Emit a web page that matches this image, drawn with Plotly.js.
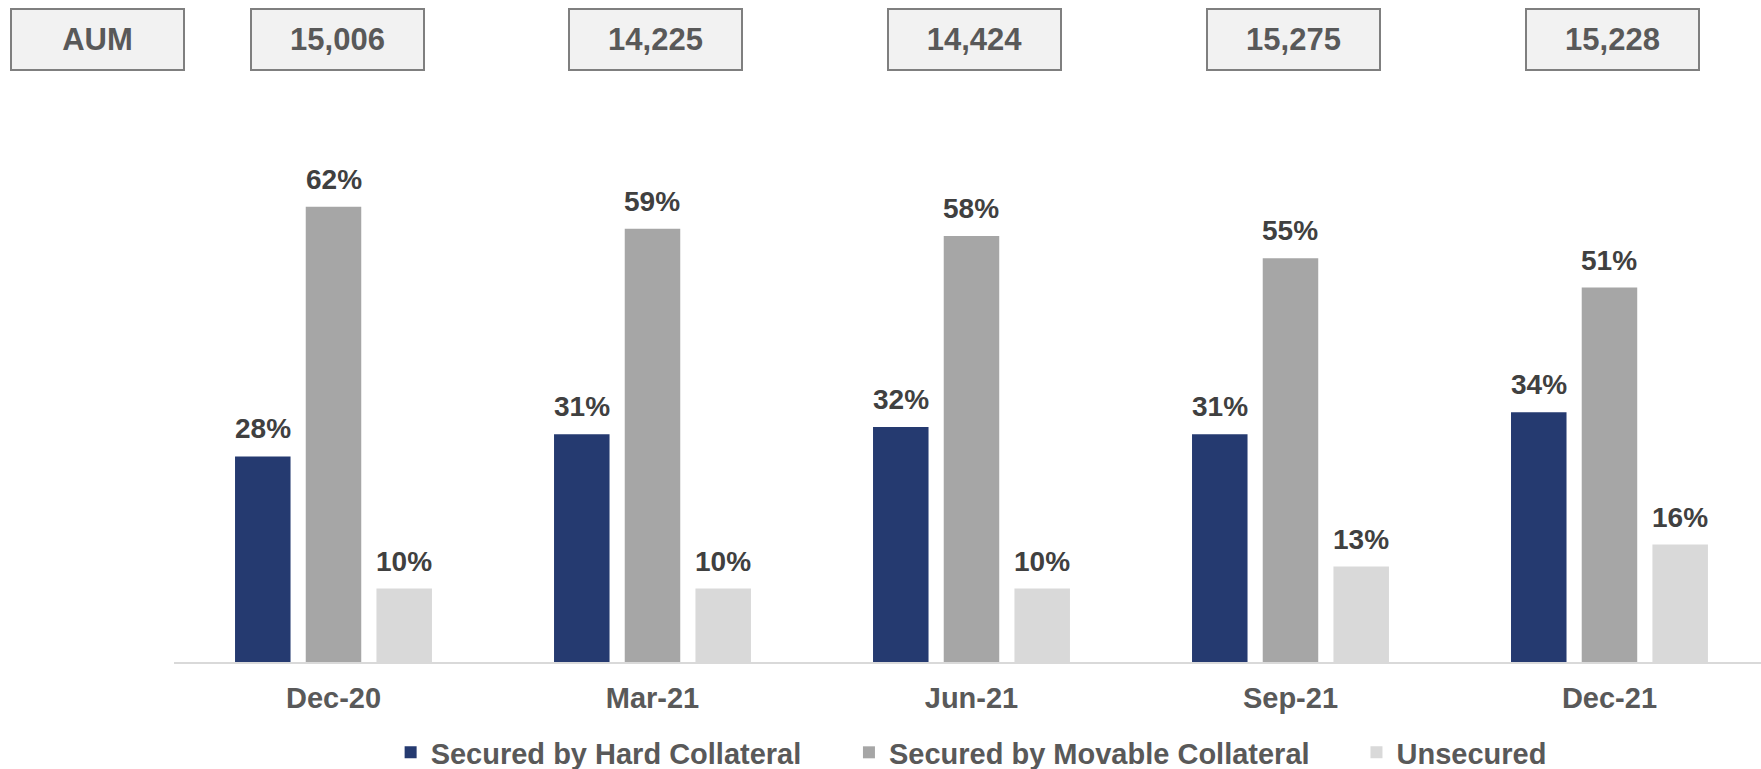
<!DOCTYPE html>
<html>
<head>
<meta charset="utf-8">
<script src="https://cdn.plot.ly/plotly-3.0.1.min.js"></script>
<style>html,body{margin:0;padding:0;background:#fff;}#chart{width:1761px;height:769px;}</style>
</head>
<body>
<div id="chart"></div>
<script>
// ---- data ----
const categories = ["Dec-20", "Mar-21", "Jun-21", "Sep-21", "Dec-21"];
const aumLabel = "AUM";
const aumValues = ["15,006", "14,225", "14,424", "15,275", "15,228"];
const seriesNames = ["Secured by Hard Collateral", "Secured by Movable Collateral", "Unsecured"];
const hardCollateral = [28, 31, 32, 31, 34];
const movableCollateral = [62, 59, 58, 55, 51];
const unsecured = [10, 10, 10, 13, 16];

// ---- styles ----
const colors = ["#253A70", "#A6A6A6", "#D9D9D9"];
const FONT = "Liberation Sans, Arial, Helvetica, sans-serif";
const BARGAP = 0.335;
const seriesValues = [hardCollateral, movableCollateral, unsecured];
const legendIds = ["legend", "legend2", "legend3"];

const xIdx = categories.map((c, i) => i);

const traces = seriesValues.map((vals, j) => ({
  type: "bar",
  name: seriesNames[j],
  x: xIdx,
  y: vals,
  marker: {color: colors[j]},
  legend: legendIds[j],
  hoverinfo: "skip"
}));

const annotations = [];
// data labels
const slot = (1 - BARGAP) / 3;
seriesValues.forEach((vals, j) => {
  vals.forEach((v, i) => {
    annotations.push({
      x: i + (j - 1) * slot, y: v, xref: "x", yref: "y",
      text: v + "%", showarrow: false,
      yanchor: "bottom", xanchor: "center", yshift: 10,
      font: {family: FONT, size: 28, color: "#404040", weight: 700}
    });
  });
});
// AUM boxes
const boxStyle = {
  showarrow: false, yref: "paper", y: 1.2111, yanchor: "middle", xanchor: "center",
  width: 170, height: 58, bgcolor: "#F2F2F2", bordercolor: "#7F7F7F", borderwidth: 2, borderpad: 0.5,
  font: {family: FONT, size: 31, color: "#595959", weight: 700}
};
annotations.push(Object.assign({}, boxStyle, {xref: "paper", x: -0.04827, text: aumLabel}));
aumValues.forEach((t, i) => {
  annotations.push(Object.assign({}, boxStyle, {xref: "x", x: i, xshift: 3.5, text: t}));
});

const legendBase = {
  orientation: "h", yref: "paper", y: -0.176, yanchor: "middle", xanchor: "left",
  bgcolor: "rgba(0,0,0,0)", borderwidth: 0,
  font: {family: FONT, size: 29, color: "#595959", weight: 700}
};

const layout = {
  width: 1761, height: 769,
  margin: {l: 174, r: 0, t: 148, b: 107, autoexpand: false},
  paper_bgcolor: "#FFFFFF", plot_bgcolor: "#FFFFFF",
  barmode: "group", bargap: BARGAP, bargroupgap: 0.215,
  showlegend: true,
  legend: Object.assign({}, legendBase, {x: 0.1365}),
  legend2: Object.assign({}, legendBase, {x: 0.4253}),
  legend3: Object.assign({}, legendBase, {x: 0.7451}),
  xaxis: {
    type: "linear", range: [-0.5, 4.475],
    tickmode: "array", tickvals: xIdx, ticktext: categories,
    showgrid: false, zeroline: false, showline: true, linecolor: "#D9D9D9", linewidth: 2,
    ticks: "", ticklabelstandoff: 9,
    tickfont: {family: FONT, size: 29, color: "#595959", weight: 700},
    fixedrange: true
  },
  yaxis: {
    range: [0, 70], showgrid: false, zeroline: false, showline: false, showticklabels: false, ticks: "",
    fixedrange: true
  },
  annotations: annotations
};

Plotly.newPlot("chart", traces, layout, {staticPlot: true, displayModeBar: false});
</script>
</body>
</html>
